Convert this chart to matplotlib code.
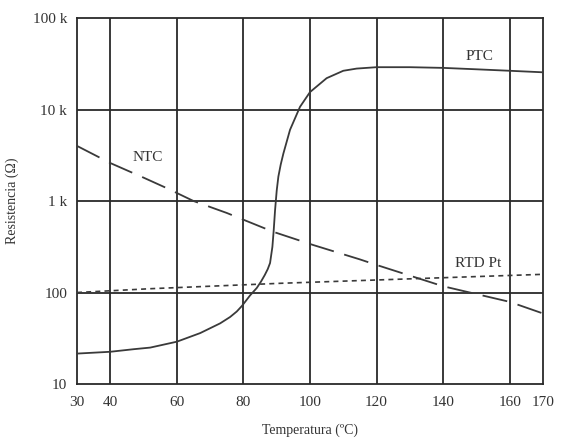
import matplotlib
matplotlib.use("Agg")
import matplotlib.pyplot as plt
from matplotlib.ticker import FixedLocator, FixedFormatter, NullLocator

plt.rcParams['font.family'] = ['Liberation Serif', 'DejaVu Serif']

# Data
ptc_t = [30, 40, 47, 52, 60, 67, 73, 76, 78, 79.5, 80.5, 82, 84, 85.3, 86.4, 87.3, 88, 88.7, 89.1, 89.5, 90, 90.5, 91.2, 92, 94, 97, 100, 105, 110, 114, 120, 130, 140, 150, 160, 170]
ptc_r = [21.5, 22.5, 24, 25, 29, 36, 46, 54, 62, 71, 79, 93, 112, 132, 155, 180, 210, 315, 480, 790, 1300, 1850, 2500, 3300, 6000, 10700, 15500, 22000, 26500, 28000, 29000, 29000, 28500, 27500, 26500, 25500]

ntc_t = [30, 40, 50, 57, 65, 75, 89, 101, 115, 120, 140, 160, 170]
ntc_r = [4000, 2600, 1800, 1380, 1000, 740, 460, 330, 230, 200, 117, 79, 59]

rtd_t = [30, 52, 91, 130, 170]
rtd_r = [100, 110, 126, 141, 158]

x_ticks = [30, 40, 60, 80, 100, 120, 140, 160, 170]
x_grid = [40, 60, 80, 100, 120, 140, 160]
y_ticks = [10, 100, 1000, 10000, 100000]
y_tick_labels = ["10", "100", "1 k", "10 k", "100 k"]
y_grid = [100, 1000, 10000]

fig = plt.figure(figsize=(5.63, 4.40), dpi=100)
ax = fig.add_axes([77/563, 1-384/440, (543-77)/563, (384-18)/440])
ax.set_yscale('log')
ax.set_xlim(30, 170)
ax.set_ylim(10, 100000)

line_col = '#3a3a3a'
for g in x_grid:
    ax.axvline(g, color='#2a2a2a', lw=1.3, zorder=1)
for g in y_grid:
    ax.axhline(g, color='#2a2a2a', lw=1.3, zorder=1)

ax.plot(ptc_t, ptc_r, color=line_col, lw=1.3, zorder=3, solid_joinstyle='round')
ax.plot(ntc_t, ntc_r, color=line_col, lw=1.3, dashes=(14, 6), zorder=3)
ax.plot(rtd_t, rtd_r, color=line_col, lw=1.2, dashes=(3, 2.5), zorder=3)

ax.text(51.3, 3000, "NTC", ha='center', va='center', fontsize=11, color='#333333')
ax.text(151, 38000, "PTC", ha='center', va='center', fontsize=11, color='#333333')
ax.text(150.5, 210, "RTD Pt", ha='center', va='center', fontsize=11, color='#333333')

ax.xaxis.set_major_locator(FixedLocator(x_ticks))
ax.xaxis.set_minor_locator(NullLocator())
ax.yaxis.set_major_locator(FixedLocator(y_ticks))
ax.yaxis.set_major_formatter(FixedFormatter(y_tick_labels))
ax.yaxis.set_minor_locator(NullLocator())
ax.tick_params(axis='both', length=0, labelsize=11, colors='#333333')
ax.tick_params(axis='x', pad=9)
ax.tick_params(axis='y', pad=7)
for s in ax.spines.values():
    s.set_color('#2a2a2a')
    s.set_linewidth(1.3)

ax.set_xlabel("Temperatura (ºC)", fontsize=10, color='#333333', labelpad=10)
ax.set_ylabel("Resistencia (Ω)", fontsize=10, color='#333333', labelpad=10)

fig.savefig("out.png", dpi=100)
